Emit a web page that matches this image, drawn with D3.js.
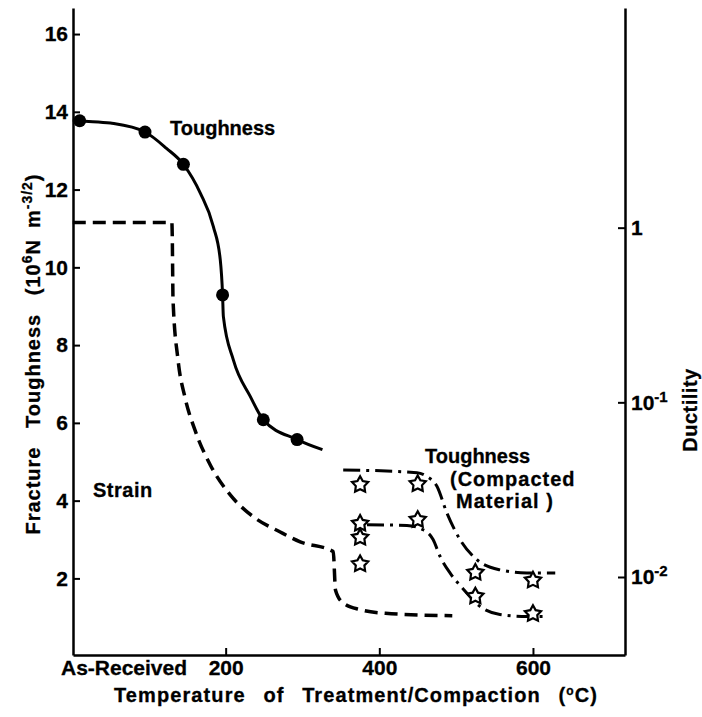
<!DOCTYPE html>
<html>
<head>
<meta charset="utf-8">
<script src="https://cdn.jsdelivr.net/npm/d3@7"></script>
<style>
  body { margin: 0; background: #fff; }
  text { font-family: "Liberation Sans", Arial, sans-serif; font-weight: bold; fill: #000; stroke: #000; stroke-width: 0.3px; }
</style>
</head>
<body>
<script>
// toughness of treated material, solid line with dots (deg C, 10^6 N m^-3/2)
var toughDots = [[10, 13.77], [95, 13.48], [145, 12.65], [196, 9.29], [249, 6.08], [293, 5.57]];
var toughCurve = [[1, 13.79], [10, 13.77], [50, 13.71], [95, 13.48], [123, 13.06], [145, 12.65], [167, 11.91],
                  [184, 11.05], [193, 10.19], [196, 9.29], [197, 8.74], [210, 7.62], [232, 6.68], [249, 6.08],
                  [293, 5.57], [326, 5.31]];
// strain (ductility, right log axis), dashed
var strainCurve = [[1, 1.07], [130, 1.07], [130.5, 0.9], [131.5, 0.386], [138, 0.175], [147, 0.107], [160, 0.0695],
                   [180, 0.0438], [206, 0.0295], [238, 0.0218], [271, 0.0181], [297, 0.0159], [340, 0.014],
                   [343, 0.0084], [353, 0.0071], [375, 0.0065], [408, 0.0062], [495, 0.006]];
// compacted material, dash-dot
var compactUpper = [[353, 4.79], [449, 4.72], [462, 4.62], [475, 4.37], [488, 3.68], [505, 3.0], [527, 2.48],
                    [557, 2.22], [592, 2.14], [629, 2.14]];
var compactLower = [[384, 3.38], [436, 3.36], [457, 3.25], [470, 3.0], [479, 2.57], [492, 2.14], [510, 1.71],
                    [531, 1.28], [557, 1.07], [592, 1.02], [620, 1.02]];
var compactStars = [[375, 4.41], [450, 4.43], [375, 3.41], [375, 3.05], [375, 2.37], [450, 3.51],
                    [525, 2.15], [525, 1.54], [600, 1.95], [600, 1.09]];

var leftTicks = [2, 4, 6, 8, 10, 12, 14, 16];
var rightTicks = [1, 0.1, 0.01];
var rightTickLabels = [["1", ""], ["10", "-1"], ["10", "-2"]];
var xTicks = [200, 400, 600];

var width = 702, height = 717,
    svg = d3.select('body').append('svg').attr('width', width).attr('height', height);

var x = d3.scaleLinear().domain([1.3, 719.8]).range([73, 625]),
    y = d3.scaleLinear().domain([0.03, 16.67]).range([655, 8]),
    yR = d3.scaleLog().domain([0.003576, 18.1]).range([655, 8]);

// axes (ticks point inward)
var gl = svg.append('g').attr('transform', 'translate(73,0)')
  .call(d3.axisLeft(y).tickValues(leftTicks).tickSizeInner(-7).tickSizeOuter(0).tickPadding(5));
var gr = svg.append('g').attr('transform', 'translate(625,0)')
  .call(d3.axisRight(yR).tickValues(rightTicks).tickSizeInner(-7).tickSizeOuter(0).tickPadding(6).tickFormat(''));
var gb = svg.append('g').attr('transform', 'translate(0,655)')
  .call(d3.axisBottom(x).tickValues(xTicks).tickSizeInner(-7).tickSizeOuter(0).tickPadding(5));

svg.selectAll('.domain').attr('stroke', '#000').attr('stroke-width', 2.5);
svg.selectAll('.tick line').attr('stroke', '#000').attr('stroke-width', 2);
svg.selectAll('.tick text').style('font-size', '21px').attr('fill', '#000');

gr.selectAll('.tick text').each(function(d, i) {
  var t = d3.select(this).attr('x', 6);
  t.append('tspan').text(rightTickLabels[i][0]);
  t.append('tspan').attr('dy', -8).style('font-size', '15px').text(rightTickLabels[i][1]);
});

svg.append('text').attr('x', 124).attr('y', 675).attr('text-anchor', 'middle')
  .style('font-size', '21px').text('As-Received');

// curves
var line = d3.line().x(function(d) { return x(d[0]); }).y(function(d) { return y(d[1]); }).curve(d3.curveMonotoneX);
var lineR = d3.line().x(function(d) { return x(d[0]); }).y(function(d) { return yR(d[1]); }).curve(d3.curveMonotoneX);

svg.append('path').attr('d', line(toughCurve)).attr('fill', 'none').attr('stroke', '#000').attr('stroke-width', 3);
svg.append('path').attr('d', lineR(strainCurve)).attr('fill', 'none').attr('stroke', '#000')
  .attr('stroke-width', 3.5).attr('stroke-dasharray', '13,7');
[compactUpper, compactLower].forEach(function(c) {
  svg.append('path').attr('d', line(c)).attr('fill', 'none').attr('stroke', '#000')
    .attr('stroke-width', 3).attr('stroke-dasharray', '17,6,3,6');
});

svg.selectAll('.dot').data(toughDots).enter().append('circle')
  .attr('cx', function(d) { return x(d[0]); }).attr('cy', function(d) { return y(d[1]); })
  .attr('r', 6.5).attr('fill', '#000');

function starPath(r1, r2) {
  var p = [];
  for (var i = 0; i < 10; i++) {
    var r = i % 2 ? r2 : r1, a = Math.PI * i / 5 - Math.PI / 2;
    p.push([r * Math.cos(a), r * Math.sin(a)]);
  }
  return 'M' + p.join('L') + 'Z';
}
svg.selectAll('.star').data(compactStars).enter().append('path')
  .attr('d', starPath(8.5, 4.5))
  .attr('transform', function(d) { return 'translate(' + x(d[0]) + ',' + y(d[1]) + ')'; })
  .attr('fill', '#fff').attr('stroke', '#000').attr('stroke-width', 2.2);

// labels
function label(t, lx, ly, ls) {
  return svg.append('text').attr('x', lx).attr('y', ly)
    .style('font-size', '20px').style('letter-spacing', (ls || 0) + 'px').text(t);
}
label('Toughness', 170, 135);
label('Strain', 93, 497, 0.5);
label('Toughness', 425, 463);
label('(Compacted', 450, 486, 1);
label('Material )', 456, 508, 1);

// axis titles
var xt = svg.append('text').attr('x', 356).attr('y', 702).attr('text-anchor', 'middle')
  .style('font-size', '20px').style('letter-spacing', '1.1px').style('word-spacing', '11px');
xt.append('tspan').text('Temperature of Treatment/Compaction (');
xt.append('tspan').attr('dy', -7).style('font-size', '12px').text('o');
xt.append('tspan').attr('dy', 7).text('C)');

var yt = svg.append('text').attr('transform', 'translate(40,354) rotate(-90)').attr('text-anchor', 'middle')
  .style('font-size', '20px').style('letter-spacing', '1px').style('word-spacing', '12px');
yt.append('tspan').text('Fracture Toughness (10');
yt.append('tspan').attr('dy', -8).style('font-size', '14px').text('6');
yt.append('tspan').attr('dy', 8).text('N\u2002m');
yt.append('tspan').attr('dy', -8).style('font-size', '14px').text('-3/2');
yt.append('tspan').attr('dy', 8).text(')');

svg.append('text').attr('transform', 'translate(697,410) rotate(-90)').attr('text-anchor', 'middle')
  .style('font-size', '20px').style('letter-spacing', '0.5px').text('Ductility');
</script>
</body>
</html>
